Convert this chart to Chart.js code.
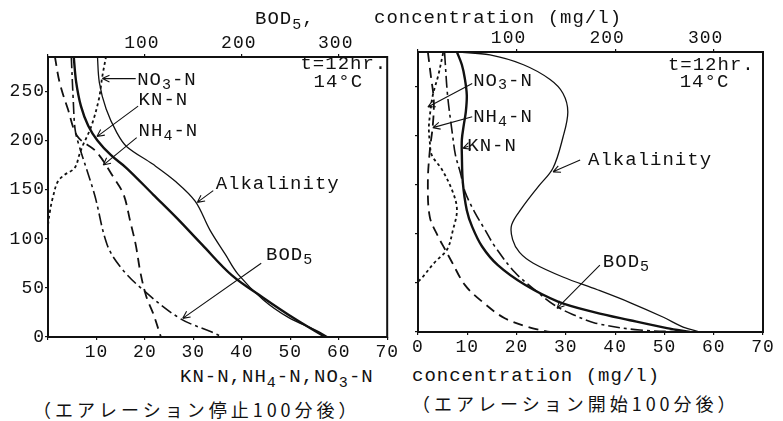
<!DOCTYPE html>
<html>
<head>
<meta charset="utf-8">
<script src="https://cdn.jsdelivr.net/npm/chart.js@4.4.1/dist/chart.umd.min.js"></script>
<style>
  body { margin: 0; background: #fff; width: 783px; height: 421px; overflow: hidden; position: relative; color: #111;
         font-family: 'Liberation Mono', 'DejaVu Sans Mono', monospace; }
  canvas { position: absolute; top: 0; }
  #left { left: 0; }
  #right { left: 400px; }
  .lbl { position: absolute; font-size: 19px; line-height: 22px; letter-spacing: 1px; white-space: nowrap; z-index: 2; }
  .lbl sub { font-size: 15px; vertical-align: -5px; line-height: 0; }
  .jp { font-family: 'Noto Sans CJK JP', sans-serif; font-size: 18px; letter-spacing: 4px; }
</style>
</head>
<body>
<canvas id="left" width="400" height="365"></canvas>
<canvas id="right" width="383" height="365"></canvas>

<div class="lbl" style="left:255px; top:8px">BOD<sub>5</sub>,</div>
<div class="lbl" style="left:374px; top:7px">concentration (mg/l)</div>
<div class="lbl" style="left:180px; top:366px">KN-N,NH<sub>4</sub>-N,NO<sub>3</sub>-N</div>
<div class="lbl" style="left:412px; top:365px">concentration (mg/l)</div>
<div class="lbl jp" style="left:33px; top:398px">（エアレーション停止100分後）</div>
<div class="lbl jp" style="left:412px; top:392px">（エアレーション開始100分後）</div>

<script>
const INK = '#111';
const MONO = "'Liberation Mono', 'DejaVu Sans Mono', monospace";

// y = depth (0-285), bottom axis = N species (mg/l), top axis = BOD5 / alkalinity (mg/l)

// --- aeration stopped (left) ---
const stopKnDepth   = [286, 260, 235, 215, 200, 185, 172, 145, 121, 94, 63, 40, 18, 0];
const stopKn        = [5.3, 5.8, 6.8, 8.3, 10.2, 13.0, 16.2, 21.7, 26.6, 31.8, 37.9, 44.4, 51.1, 57.2];
const stopNh4Depth  = [286, 259, 232, 204, 189, 162, 145, 117, 94, 65, 41, 24, 0];
const stopNh4       = [1.4, 2.4, 4.1, 6.1, 9.9, 13.6, 15.6, 17.0, 18.1, 19.1, 20.3, 21.7, 23.3];
const stopNo3Depth  = [286, 265, 242, 214, 194, 186, 172, 165, 158, 142, 128, 111, 0];
const stopNo3       = [12.0, 11.2, 10.5, 8.9, 7.1, 6.5, 5.5, 3.4, 2.0, 1.0, 0.4, 0, 0];
const stopBodDepth  = [286, 242, 211, 195, 145, 94, 71, 48, 19, 5, 0];
const stopBod       = [24, 26, 28, 32, 48, 61, 75, 98, 136, 169, 180];
const stopAlkDepth  = [286, 259, 232, 208, 194, 176, 158, 138, 109, 84, 64, 38, 20, 7, 0];
const stopAlk       = [51, 53, 60, 71, 81, 108, 132, 152, 167, 183, 196, 222, 248, 276, 289];

// --- aeration started (right) ---
const runKnDepth    = [285, 272, 258, 241, 224, 211, 196, 180, 152, 124, 107, 87, 68, 48, 31, 20, 12, 4, 0];
const runKn         = [7.9, 8.9, 9.5, 9.9, 9.7, 9.3, 8.9, 8.9, 9.1, 9.9, 11.0, 13.0, 16.2, 21.7, 28.4, 35.9, 43.0, 50.5, 55.2];
const runNh4Depth   = [285, 261, 236, 210, 185, 152, 117, 97, 84, 71, 48, 31, 14, 4, 0];
const runNh4        = [2.0, 2.6, 3.2, 3.0, 2.4, 2.0, 2.4, 4.1, 5.5, 6.9, 9.5, 13.0, 17.6, 23.1, 26.8];
const runNo3Depth   = [284, 261, 241, 220, 207, 193, 180, 165, 142, 124, 104, 84, 71, 55, 50, 0];
const runNo3        = [5.1, 4.1, 3.0, 2.4, 2.2, 2.4, 2.8, 4.9, 7.1, 7.9, 7.1, 5.9, 3.4, 0.8, 0, 0];
const runBodDepth   = [284, 241, 201, 180, 162, 142, 121, 104, 87, 61, 45, 27, 17, 9, 2, 0];
const runBod        = [27, 30, 35, 38, 43, 48, 58, 68, 78, 98, 116, 139, 159, 180, 225, 276];
const runAlkDepth   = [285, 282, 272, 257, 243, 224, 198, 167, 148, 127, 109, 94, 81, 70, 56, 43, 30, 15, 5, 0];
const runAlk        = [40, 73, 107, 134, 147, 152, 147, 137, 122, 106, 95, 96, 103, 117, 147, 182, 215, 249, 269, 286];

const pts = (xs, ys) => xs.map((x, i) => ({ x: x, y: ys[i] }));

function curve(data, style, axis) {
  return Object.assign({
    data: data,
    xAxisID: axis || 'x',
    showLine: true,
    borderColor: INK,
    backgroundColor: INK,
    pointRadius: 0,
    tension: 0.35,
    fill: false
  }, style);
}

const KN  = { borderWidth: 2.4 };
const ALK = { borderWidth: 1.3 };
const NH4 = { borderWidth: 1.8, borderDash: [10, 6] };
const NO3 = { borderWidth: 1.8, borderDash: [3, 3] };
const BOD = { borderWidth: 1.6, borderDash: [12, 4, 3, 4] };

// rich text: '_{..}' is a subscript
function drawRich(ctx, str, x, y) {
  const parts = str.split(/(_\{[^}]*\})/).filter(Boolean);
  let cx = x;
  parts.forEach(p => {
    if (p.startsWith('_{')) {
      const s = p.slice(2, -1);
      ctx.font = '15px ' + MONO;
      ctx.fillText(s, cx, y + 5);
      cx += ctx.measureText(s).width;
    } else {
      ctx.font = '19px ' + MONO;
      ctx.fillText(p, cx, y);
      cx += ctx.measureText(p).width;
    }
  });
}

function arrow(ctx, x1, y1, x2, y2) {
  ctx.beginPath();
  ctx.moveTo(x1, y1);
  ctx.lineTo(x2, y2);
  const a = Math.atan2(y2 - y1, x2 - x1);
  const h = 8;
  ctx.moveTo(x2, y2);
  ctx.lineTo(x2 - h * Math.cos(a - 0.45), y2 - h * Math.sin(a - 0.45));
  ctx.moveTo(x2, y2);
  ctx.lineTo(x2 - h * Math.cos(a + 0.45), y2 - h * Math.sin(a + 0.45));
  ctx.stroke();
}

function inkPlugin(notes) {
  return {
    id: 'ink',
    beforeLayout(chart) { chart.ctx.letterSpacing = '1px'; },
    beforeDraw(chart) { chart.ctx.letterSpacing = '1px'; },
    afterDatasetsDraw(chart) {
      const { ctx, chartArea: a, scales } = chart;
      ctx.save();
      ctx.strokeStyle = INK;
      ctx.lineWidth = 2;
      ctx.strokeRect(a.left, a.top, a.right - a.left, a.bottom - a.top);
      ctx.fillStyle = INK;
      ctx.textBaseline = 'middle';
      ctx.textAlign = 'left';
      ctx.lineWidth = 1.1;
      notes.forEach(n => {
        drawRich(ctx, n.text, scales.x.getPixelForValue(n.at[0]), scales.y.getPixelForValue(n.at[1]));
        if (n.from) {
          arrow(ctx,
            scales.x.getPixelForValue(n.from[0]), scales.y.getPixelForValue(n.from[1]),
            scales.x.getPixelForValue(n.to[0]), scales.y.getPixelForValue(n.to[1]));
        }
      });
      ctx.restore();
    }
  };
}

function makePanel(id, datasets, notes, o) {
  const font = { family: MONO, size: 18 };
  const grid = { drawOnChartArea: false, tickLength: 3, color: INK, lineWidth: 1.2 };
  return new Chart(document.getElementById(id), {
    type: 'scatter',
    data: { datasets: datasets },
    options: {
      responsive: false,
      animation: false,
      layout: { autoPadding: false, padding: { left: 0, top: 0, right: o.padRight, bottom: 0 } },
      plugins: { legend: { display: false }, tooltip: { enabled: false } },
      scales: {
        x: {
          type: 'linear', position: 'bottom', min: 0, max: 70,
          afterFit: s => { s.height = o.bottom; },
          border: { display: false },
          grid: grid,
          ticks: {
            stepSize: 10, includeBounds: false, autoSkip: false, maxRotation: 0,
            padding: 1, color: INK, font: font,
            callback: v => (v === 0 && o.hideZero) ? '' : v
          }
        },
        x2: {
          type: 'linear', position: 'top', min: 0, max: 350,
          afterFit: s => { s.height = o.top; },
          border: { display: false },
          grid: grid,
          ticks: {
            stepSize: 100, includeBounds: false, autoSkip: false, maxRotation: 0,
            padding: 0, color: INK, font: font, labelOffset: o.topShift,
            callback: v => v === 0 ? '' : v
          }
        },
        y: {
          type: 'linear', position: 'left', min: 0, max: 285,
          afterFit: s => { s.width = o.left; },
          border: { display: false },
          grid: grid,
          ticks: { stepSize: 50, includeBounds: false, padding: 0, color: INK, font: font, display: o.yLabels }
        }
      }
    },
    plugins: [inkPlugin(notes)]
  });
}

makePanel('left', [
  curve(pts(stopKn, stopKnDepth), KN),
  curve(pts(stopNh4, stopNh4Depth), NH4),
  curve(pts(stopNo3, stopNo3Depth), NO3),
  curve(pts(stopBod, stopBodDepth), BOD, 'x2'),
  curve(pts(stopAlk, stopAlkDepth), ALK, 'x2')
], [
  { text: 't=12hr.', at: [52.1, 278] },
  { text: '14°C', at: [54.8, 260] },
  { text: 'NO_{3}-N', at: [18.4, 262], from: [18.1, 263], to: [11.2, 263] },
  { text: 'KN-N', at: [18.7, 241], from: [18.6, 235], to: [10.1, 204] },
  { text: 'NH_{4}-N', at: [18.7, 210], from: [18.3, 203], to: [11.4, 175] },
  { text: 'Alkalinity', at: [34.6, 156], from: [34.1, 149], to: [30.8, 137] },
  { text: 'BOD_{5}', at: [45.0, 83], from: [44.0, 75], to: [27.8, 19] }
], { left: 48, top: 57, bottom: 28, padRight: 7, hideZero: true, yLabels: true, topShift: -3 });

makePanel('right', [
  curve(pts(runKn, runKnDepth), KN),
  curve(pts(runNh4, runNh4Depth), NH4),
  curve(pts(runNo3, runNo3Depth), NO3),
  curve(pts(runBod, runBodDepth), BOD, 'x2'),
  curve(pts(runAlk, runAlkDepth), ALK, 'x2')
], [
  { text: 't=12hr.', at: [50.7, 272] },
  { text: '14°C', at: [53.1, 254] },
  { text: 'NO_{3}-N', at: [11.2, 256], from: [11.0, 253], to: [2.0, 229] },
  { text: 'NH_{4}-N', at: [11.2, 219], from: [11.0, 219], to: [3.0, 208] },
  { text: 'KN-N', at: [10.0, 189], from: [10.2, 189], to: [9.1, 187] },
  { text: 'Alkalinity', at: [34.5, 175], from: [32.9, 175], to: [27.4, 163] },
  { text: 'BOD_{5}', at: [37.5, 71], from: [36.9, 68], to: [28.2, 24] }
], { left: 18, top: 52, bottom: 33, padRight: 20, hideZero: false, yLabels: false, topShift: -8 });
</script>
</body>
</html>
